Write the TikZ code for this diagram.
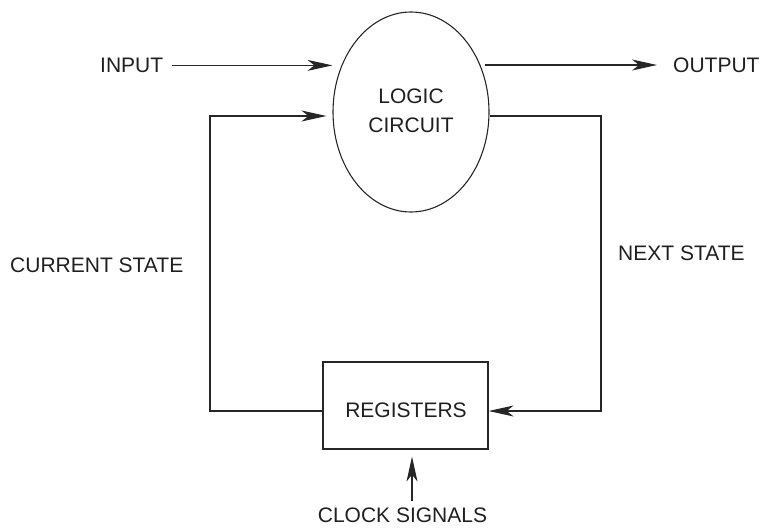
\documentclass[tikz,border=0pt]{standalone}
\usepackage{fontspec}
\setmainfont{Liberation Sans}
\usetikzlibrary{shapes.geometric,arrows.meta}
\begin{document}
\begin{tikzpicture}[x=1pt,y=-1pt,
  lbl/.style={inner sep=0pt,anchor=base,font=\fontsize{21}{25}\selectfont,text=black!88},
  conn/.style={line width=1.1pt,draw=black!85},
  arr/.style={conn,-{Stealth[length=25pt,width=11pt,inset=7pt]}}]
\useasboundingbox (0,0) rectangle (762,527);
% shapes
\node[ellipse,draw=black!85,line width=1.1pt,minimum width=156pt,minimum height=200pt,inner sep=0pt] (lc) at (411,112) {};
\node[draw=black!85,line width=1.2pt,minimum width=165pt,minimum height=87pt,inner sep=0pt] (reg) at (405.5,405.5) {};
% texts
\node[lbl] (lct1) at (411,103) {LOGIC};
\node[lbl] (lct2) at (411,132) {CIRCUIT};
\node[lbl] (regt) at (406,417.5) {REGISTERS};
\node[lbl,anchor=base west] (input) at (100,72.5) {INPUT};
\node[lbl,anchor=base west] (output) at (673,72.5) {OUTPUT};
\node[lbl,anchor=base west] (cur) at (10,272.5) {CURRENT STATE};
\node[lbl,anchor=base west] (nxt) at (618,260.5) {NEXT STATE};
\node[lbl] (clock) at (402.5,522.5) {CLOCK SIGNALS};
% helper coordinates
\coordinate (cs) at (210,116);
\coordinate (ns) at (601,116);
\coordinate (ck) at (412,449);
\coordinate (io) at (0,65);
% connectors
\draw[arr,shorten <=9pt] (input.east) -- (lc.west |- input.east);
\draw[arr,shorten <=-5pt,shorten >=16pt] (lc.east |- io) -- (output.west |- io);
\draw[arr,shorten >=6pt] ([yshift=-5.5pt]reg.west) -| (cs) -- (lc.west |- cs);
\draw[arr,shorten >=-7pt] (lc.east |- ns) -- (ns) |- ([yshift=-5.5pt,xshift=7pt]reg.east);
\draw[arr,shorten <=7pt,shorten >=7pt] (clock.north -| ck) -- (reg.south -| ck);
\end{tikzpicture}
\end{document}
